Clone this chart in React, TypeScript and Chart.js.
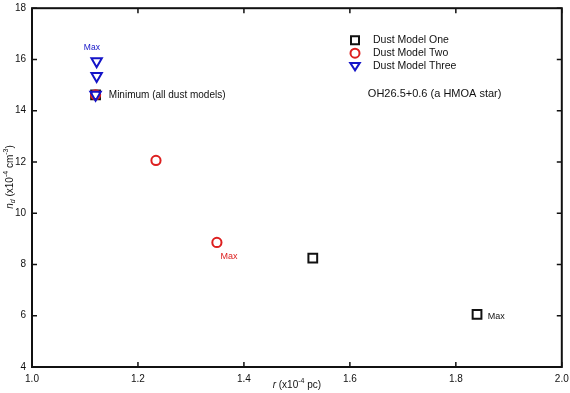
import React, { useEffect, useRef } from 'react';
import { Chart, registerables } from 'chart.js';

Chart.register(...registerables);

// ---- data ----
const seriesNames = ['Dust Model One', 'Dust Model Two', 'Dust Model Three'];
const modelOneR = [1.12, 1.53, 1.84];
const modelOneN = [14.62, 8.25, 6.05];
const modelTwoR = [1.12, 1.234, 1.349];
const modelTwoN = [14.62, 12.06, 8.86];
const modelThreeR = [1.12, 1.122, 1.122];
const modelThreeN = [14.62, 15.35, 15.93];

const xTickValues = [1.0, 1.2, 1.4, 1.6, 1.8, 2.0];
const yTickValues = [4, 6, 8, 10, 12, 14, 16, 18];

const noteTexts = ['Max', 'Max', 'Max', 'Minimum (all dust models)', 'OH26.5+0.6 (a HMOA star)'];
const noteR = [1.113, 1.372, 1.86, 1.145, 1.76];
const noteN = [16.46, 8.32, 5.97, 14.62, 14.64];

// ---- styles ----
const FONT = '"Liberation Sans", Arial, Helvetica, sans-serif';
const BLACK = '#111111';
const RED = '#dd1f1f';
const BLUE = '#1414c8';
const seriesColors = [BLACK, RED, BLUE];
const noteColors = [BLUE, RED, BLACK, BLACK, BLACK];
const noteSizes = [8.5, 9, 9, 10, 11];
const noteAlign: CanvasTextAlign[] = ['center', 'center', 'left', 'left', 'center'];

type Seg = { t: string; italic?: boolean; sup?: boolean; sub?: boolean };

function drawRich(ctx: CanvasRenderingContext2D, segs: Seg[], cx: number, cy: number, size: number) {
  const fontFor = (s: Seg) =>
    `${s.italic ? 'italic ' : ''}${s.sup || s.sub ? size * 0.7 : size}px ${FONT}`;
  let total = 0;
  const widths = segs.map((s) => {
    ctx.font = fontFor(s);
    const w = ctx.measureText(s.t).width;
    total += w;
    return w;
  });
  ctx.textAlign = 'left';
  ctx.textBaseline = 'middle';
  let x = cx - total / 2;
  segs.forEach((s, i) => {
    ctx.font = fontFor(s);
    const dy = s.sup ? -size * 0.4 : s.sub ? size * 0.3 : 0;
    ctx.fillText(s.t, x, cy + dy);
    x += widths[i];
  });
}

function drawMarker(ctx: CanvasRenderingContext2D, kind: number, x: number, y: number, color: string) {
  ctx.save();
  ctx.strokeStyle = color;
  ctx.lineWidth = 2;
  ctx.beginPath();
  if (kind === 0) {
    ctx.rect(x - 4, y - 4, 8, 8);
  } else if (kind === 1) {
    ctx.arc(x, y, 4.5, 0, Math.PI * 2);
  } else {
    const r = 5.5;
    ctx.moveTo(x, y + r * 0.75);
    ctx.lineTo(x - r * 0.866, y - r * 0.6);
    ctx.lineTo(x + r * 0.866, y - r * 0.6);
    ctx.closePath();
  }
  ctx.stroke();
  ctx.restore();
}

const framePlugin = {
  id: 'frameTicks',
  beforeDatasetsDraw(chart: any) {
    const { ctx, chartArea: a, scales } = chart;
    ctx.save();
    ctx.strokeStyle = BLACK;
    ctx.lineWidth = 1.5;
    const tl = 5;
    ctx.beginPath();
    xTickValues.forEach((v) => {
      const px = scales.x.getPixelForValue(v);
      ctx.moveTo(px, a.bottom);
      ctx.lineTo(px, a.bottom - tl);
      ctx.moveTo(px, a.top);
      ctx.lineTo(px, a.top + tl);
    });
    yTickValues.forEach((v) => {
      const py = scales.y.getPixelForValue(v);
      ctx.moveTo(a.left, py);
      ctx.lineTo(a.left + tl, py);
      ctx.moveTo(a.right, py);
      ctx.lineTo(a.right - tl, py);
    });
    ctx.stroke();
    ctx.lineWidth = 2;
    ctx.strokeRect(a.left, a.top, a.right - a.left, a.bottom - a.top);
    ctx.restore();
  },
  afterDraw(chart: any) {
    const { ctx, chartArea: a, scales } = chart;
    ctx.save();
    ctx.fillStyle = BLACK;
    // axis titles
    drawRich(
      ctx,
      [{ t: 'r', italic: true }, { t: ' (x10' }, { t: '-4', sup: true }, { t: ' pc)' }],
      (a.left + a.right) / 2,
      385,
      10
    );
    ctx.save();
    ctx.translate(10, 177);
    ctx.rotate(-Math.PI / 2);
    drawRich(
      ctx,
      [
        { t: 'n', italic: true },
        { t: 'd', italic: true, sub: true },
        { t: ' (x10' },
        { t: '-4', sup: true },
        { t: ' cm' },
        { t: '-3', sup: true },
        { t: ')' },
      ],
      0,
      0,
      10
    );
    ctx.restore();

    // notes
    noteTexts.forEach((t, i) => {
      ctx.font = `${noteSizes[i]}px ${FONT}`;
      ctx.fillStyle = noteColors[i];
      ctx.textAlign = noteAlign[i];
      ctx.textBaseline = 'middle';
      ctx.fillText(t, scales.x.getPixelForValue(noteR[i]), scales.y.getPixelForValue(noteN[i]));
    });

    // legend
    const lx = a.left + 323;
    const ly = a.top + 32;
    seriesNames.forEach((name, i) => {
      const y = ly + i * 13;
      drawMarker(ctx, i, lx, y, seriesColors[i]);
      ctx.font = `10.5px ${FONT}`;
      ctx.fillStyle = BLACK;
      ctx.textAlign = 'left';
      ctx.textBaseline = 'middle';
      ctx.fillText(name, lx + 18, y);
    });
    ctx.restore();
  },
};

function toPoints(xs: number[], ys: number[]) {
  return xs.map((x, i) => ({ x, y: ys[i] }));
}

export default function App() {
  const ref = useRef<HTMLCanvasElement | null>(null);

  useEffect(() => {
    document.body.style.margin = '0';
    const canvas = ref.current;
    if (!canvas) return;
    const zeroPad = (scale: any) => {
      scale.paddingTop = 0;
      scale.paddingBottom = 0;
      scale.paddingLeft = 0;
      scale.paddingRight = 0;
    };
    const chart = new Chart(canvas, {
      type: 'scatter',
      data: {
        datasets: [
          {
            label: seriesNames[0],
            data: toPoints(modelOneR, modelOneN),
            pointStyle: 'rect',
            pointRadius: 6.2,
            borderColor: seriesColors[0],
            backgroundColor: 'rgba(0,0,0,0)',
            borderWidth: 2,
            order: 2,
          },
          {
            label: seriesNames[1],
            data: toPoints(modelTwoR, modelTwoN),
            pointStyle: 'circle',
            pointRadius: 4.6,
            borderColor: seriesColors[1],
            backgroundColor: 'rgba(0,0,0,0)',
            borderWidth: 2,
            order: 1,
          },
          {
            label: seriesNames[2],
            data: toPoints(modelThreeR, modelThreeN),
            pointStyle: 'triangle',
            rotation: 180,
            pointRadius: 6,
            borderColor: seriesColors[2],
            backgroundColor: 'rgba(0,0,0,0)',
            borderWidth: 2,
            order: 0,
          },
        ],
      },
      options: {
        animation: false,
        responsive: false,
        devicePixelRatio: 1,
        layout: { padding: { top: 4, right: 8, left: 0, bottom: 0 } },
        plugins: { legend: { display: false }, tooltip: { enabled: false } },
        scales: {
          x: {
            type: 'linear',
            min: 1,
            max: 2,
            afterBuildTicks: (s: any) => {
              s.ticks = xTickValues.map((v) => ({ value: v }));
            },
            afterFit: (s: any) => {
              s.height = 26;
              zeroPad(s);
            },
            grid: { display: false, drawTicks: false },
            border: { display: false },
            ticks: {
              padding: 6,
              color: BLACK,
              font: { family: FONT, size: 10 },
              maxRotation: 0,
              autoSkip: false,
              callback: (v: any) => Number(v).toFixed(1),
            },
          },
          y: {
            type: 'linear',
            min: 4,
            max: 18,
            afterBuildTicks: (s: any) => {
              s.ticks = yTickValues.map((v) => ({ value: v }));
            },
            afterFit: (s: any) => {
              s.width = 32;
              zeroPad(s);
            },
            grid: { display: false, drawTicks: false },
            border: { display: false },
            ticks: {
              padding: 6,
              color: BLACK,
              font: { family: FONT, size: 10 },
              autoSkip: false,
              callback: (v: any) => String(v),
            },
          },
        },
      },
      plugins: [framePlugin],
    });
    return () => chart.destroy();
  }, []);

  return (
    <div style={{ width: 570, height: 393, background: '#fff' }}>
      <canvas ref={ref} width={570} height={393} style={{ display: 'block' }} />
    </div>
  );
}
